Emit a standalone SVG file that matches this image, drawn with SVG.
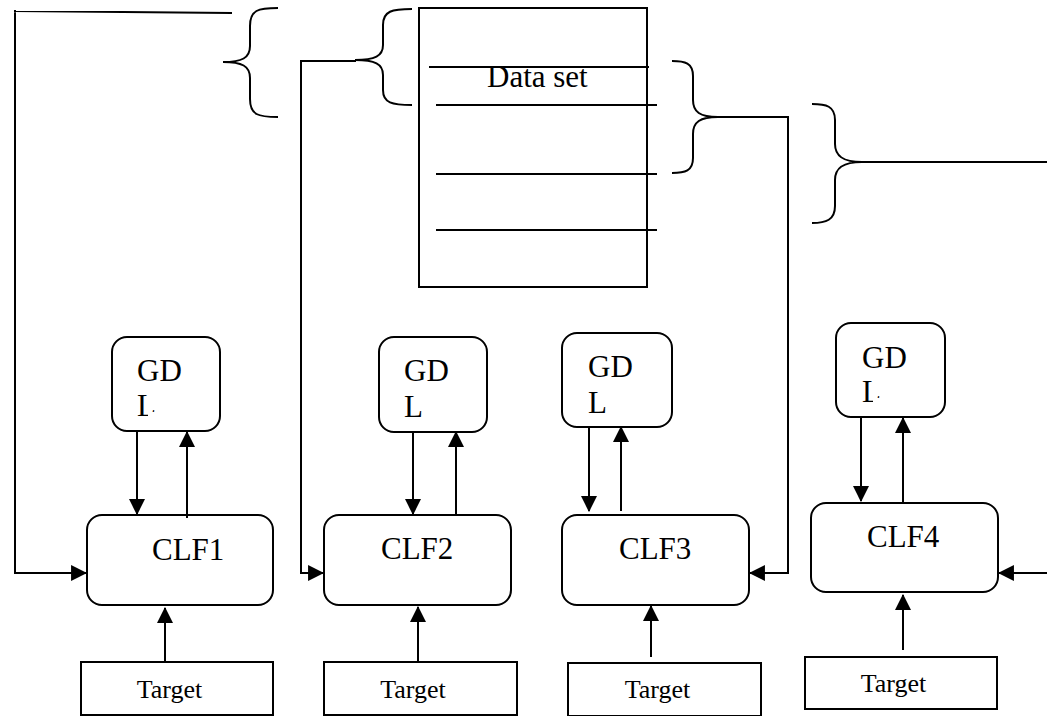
<svg xmlns="http://www.w3.org/2000/svg" width="1047" height="716" viewBox="0 0 1047 716">
  <style>
    .ln { fill: none; stroke: #000; stroke-width: 2; }
    .box { fill: #fff; stroke: #000; stroke-width: 2; }
    .lbl { font-family: "Liberation Serif", "Times New Roman", serif; font-size: 31px; fill: #000; }
    .tgt { font-family: "Liberation Serif", "Times New Roman", serif; font-size: 26px; fill: #000; text-anchor: middle; }
  </style>
  <defs>
    <marker id="arr" markerUnits="userSpaceOnUse" markerWidth="16" markerHeight="16" viewBox="0 0 15 15" refX="14" refY="7.5" orient="auto">
      <path d="M0,0 L15,7.5 L0,15 Z" fill="#000"/>
    </marker>
    <!-- hide the lower part of the "L" foot, which is cut by its frame -->
    <clipPath id="cutL1">
      <rect x="100" y="330" width="130" height="82"/>
      <rect x="100" y="412" width="48" height="10"/>
    </clipPath>
    <clipPath id="cutL4">
      <rect x="825" y="315" width="130" height="83"/>
      <rect x="825" y="398" width="48" height="10"/>
    </clipPath>
  </defs>
  <rect width="1047" height="716" fill="#fff"/>

  <!-- data set with its record lines -->
  <g id="dataset">
    <rect class="box" x="419" y="8" width="228" height="279"/>
    <line class="ln" x1="429" y1="67" x2="649" y2="67"/>
    <line class="ln" x1="436" y1="105" x2="657" y2="105"/>
    <line class="ln" x1="436" y1="174" x2="657" y2="174"/>
    <line class="ln" x1="436" y1="230" x2="657" y2="230"/>
    <text class="lbl" x="487" y="87" font-size="31">Data set</text>
  </g>

  <!-- subset braces -->
  <g id="braces">
    <path class="ln" d="M278,8 C258,8 250,10 250,26 L250,46 C250,58 242,62 223,62 C242,62 250,66 250,78 L250,99 C250,115 258,117 278,117"/>
    <path class="ln" d="M412,9 C392,9 383,11 383,25 L383,45 C383,56 375,60 355,60 C375,60 383,64 383,75 L383,90 C383,103 392,105 412,105"/>
    <path class="ln" d="M672,61 C685,61 693,63 693,76 L693,100 C693,112 700,117 718,117 C700,117 693,122 693,134 L693,158 C693,171 685,173 672,173"/>
    <path class="ln" d="M812,104 C826,104 835,106 835,120 L835,144 C835,156 843,162 862,162 C843,162 835,168 835,180 L835,206 C835,220 826,223 812,223"/>
  </g>

  <!-- GDL boxes -->
  <g id="gdl1">
    <rect class="box" x="112" y="337" width="108" height="94" rx="15"/>
    <text class="lbl" x="137" y="381">GD</text>
    <text class="lbl" x="137" y="416" clip-path="url(#cutL1)">L</text>
  </g>
  <g id="gdl2">
    <rect class="box" x="379" y="337" width="108" height="95" rx="15"/>
    <text class="lbl" x="404" y="381">GD</text>
    <text class="lbl" x="404" y="417">L</text>
  </g>
  <g id="gdl3">
    <rect class="box" x="562" y="333" width="110" height="94" rx="15"/>
    <text class="lbl" x="588" y="377">GD</text>
    <text class="lbl" x="588" y="413">L</text>
  </g>
  <g id="gdl4">
    <rect class="box" x="836" y="323" width="109" height="94" rx="15"/>
    <text class="lbl" x="862" y="368">GD</text>
    <text class="lbl" x="862" y="402" clip-path="url(#cutL4)">L</text>
  </g>

  <!-- classifier boxes -->
  <g id="clf1">
    <rect class="box" x="87" y="515" width="186" height="90" rx="15"/>
    <text class="lbl" x="152" y="560">CLF1</text>
  </g>
  <g id="clf2">
    <rect class="box" x="324" y="515" width="187" height="90" rx="15"/>
    <text class="lbl" x="381" y="559">CLF2</text>
  </g>
  <g id="clf3">
    <rect class="box" x="562" y="515" width="187" height="90" rx="15"/>
    <text class="lbl" x="619" y="559">CLF3</text>
  </g>
  <g id="clf4">
    <rect class="box" x="811" y="503" width="187" height="89" rx="15"/>
    <text class="lbl" x="867" y="547">CLF4</text>
  </g>

  <!-- target boxes -->
  <g id="target1">
    <rect class="box" x="81" y="662" width="192" height="53"/>
    <text class="tgt" x="169.5" y="698">Target</text>
  </g>
  <g id="target2">
    <rect class="box" x="324" y="662" width="193" height="53"/>
    <text class="tgt" x="413" y="698">Target</text>
  </g>
  <g id="target3">
    <rect class="box" x="568" y="663" width="193" height="53"/>
    <text class="tgt" x="657.5" y="698">Target</text>
  </g>
  <g id="target4">
    <rect class="box" x="805" y="657" width="192" height="52"/>
    <text class="tgt" x="893.5" y="692">Target</text>
  </g>

  <!-- connectors -->
  <g id="connectors">
    <!-- subsets to classifiers -->
    <polyline class="ln" points="232,13 14,11 15,11 15,573 86,573" marker-end="url(#arr)"/>
    <polyline class="ln" points="356,61 301,61 301,573 323,573" marker-end="url(#arr)"/>
    <polyline class="ln" points="717,117 788,117 788,573 750,573" marker-end="url(#arr)"/>
    <polyline class="ln" points="862,162 1049,162 1049,573 999,573" marker-end="url(#arr)"/>

    <!-- GDL exchanges -->
    <line class="ln" x1="137" y1="431" x2="137" y2="514" marker-end="url(#arr)"/>
    <line class="ln" x1="187" y1="518" x2="187" y2="432" marker-end="url(#arr)"/>
    <line class="ln" x1="413" y1="432" x2="413" y2="514" marker-end="url(#arr)"/>
    <line class="ln" x1="456" y1="515" x2="456" y2="432" marker-end="url(#arr)"/>
    <line class="ln" x1="589" y1="427" x2="589" y2="511" marker-end="url(#arr)"/>
    <line class="ln" x1="621" y1="511" x2="621" y2="427" marker-end="url(#arr)"/>
    <line class="ln" x1="861" y1="417" x2="861" y2="501" marker-end="url(#arr)"/>
    <line class="ln" x1="903" y1="504" x2="903" y2="418" marker-end="url(#arr)"/>

    <!-- targets to classifiers -->
    <line class="ln" x1="165" y1="662" x2="165" y2="608" marker-end="url(#arr)"/>
    <line class="ln" x1="418" y1="662" x2="418" y2="607" marker-end="url(#arr)"/>
    <line class="ln" x1="651" y1="657" x2="651" y2="606" marker-end="url(#arr)"/>
    <line class="ln" x1="903" y1="650" x2="903" y2="595" marker-end="url(#arr)"/>
  </g>
</svg>
